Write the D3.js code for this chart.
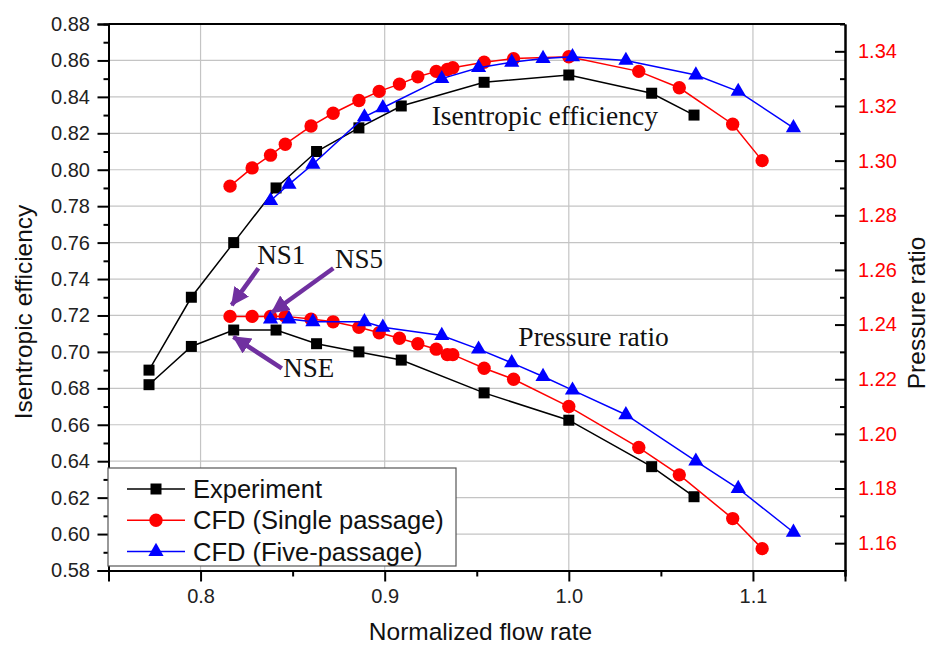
<!DOCTYPE html>
<html><head><meta charset="utf-8">
<script src="https://cdn.jsdelivr.net/npm/d3@7"></script>
<style>
html,body{margin:0;padding:0;background:#fff;}
svg{display:block;font-family:"Liberation Sans",Arial,sans-serif;}
</style></head>
<body><svg id="chart" width="931" height="646"></svg>
<script>
// ---------- data ----------
const expFlow  = [0.772, 0.795, 0.818, 0.841, 0.863, 0.886, 0.909, 0.954, 1.000, 1.045, 1.068];
const expEff   = [0.690, 0.730, 0.760, 0.790, 0.810, 0.823, 0.835, 0.848, 0.852, 0.842, 0.830];
const expPR    = [1.218, 1.232, 1.238, 1.238, 1.233, 1.230, 1.227, 1.215, 1.205, 1.188, 1.177];

const singleFlow = [0.816, 0.828, 0.838, 0.846, 0.860, 0.872, 0.886, 0.897, 0.908, 0.918, 0.928, 0.934, 0.937, 0.954, 0.970, 1.000, 1.038, 1.060, 1.089, 1.105];
const singleEff  = [0.791, 0.801, 0.808, 0.814, 0.824, 0.831, 0.838, 0.843, 0.847, 0.851, 0.854, 0.855, 0.856, 0.859, 0.861, 0.862, 0.854, 0.845, 0.825, 0.805];
const singlePR   = [1.243, 1.243, 1.243, 1.243, 1.242, 1.241, 1.239, 1.237, 1.235, 1.233, 1.231, 1.229, 1.229, 1.224, 1.220, 1.210, 1.195, 1.185, 1.169, 1.158];

const fiveFlow = [0.838, 0.848, 0.861, 0.889, 0.899, 0.931, 0.951, 0.969, 0.986, 1.002, 1.031, 1.069, 1.092, 1.122];
const fiveEff  = [0.783, 0.792, 0.803, 0.829, 0.834, 0.850, 0.856, 0.859, 0.861, 0.862, 0.860, 0.852, 0.843, 0.823];
const fivePR   = [1.242, 1.242, 1.241, 1.241, 1.239, 1.236, 1.231, 1.226, 1.221, 1.216, 1.207, 1.190, 1.180, 1.164];

const seriesNames = ["Experiment", "CFD (Single passage)", "CFD (Five-passage)"];
const xTicks = [0.8, 0.9, 1.0, 1.1];
const xMinorTicks = [0.75, 0.85, 0.95, 1.05, 1.15];
const leftTicks = [0.58,0.60,0.62,0.64,0.66,0.68,0.70,0.72,0.74,0.76,0.78,0.80,0.82,0.84,0.86,0.88];
const leftMinor = [0.59,0.61,0.63,0.65,0.67,0.69,0.71,0.73,0.75,0.77,0.79,0.81,0.83,0.85,0.87];
const rightTicks = [1.16,1.18,1.20,1.22,1.24,1.26,1.28,1.30,1.32,1.34];
const rightMinor = [1.15,1.17,1.19,1.21,1.23,1.25,1.27,1.29,1.31,1.33,1.35];

// annotations (data coordinates: flow, efficiency)
const annoText = [
  {t:"Isentropic efficiency", x:0.9255, y:0.8246},
  {t:"Pressure ratio", x:0.9726, y:0.7032},
  {t:"NS1", x:0.8308, y:0.7481},
  {t:"NS5", x:0.8730, y:0.7462},
  {t:"NSE", x:0.8449, y:0.6864}
];
const arrows = [
  {x1:0.8314, y1:0.7459, x2:0.8169, y2:0.7257},
  {x1:0.8721, y1:0.7459, x2:0.8386, y2:0.7215},
  {x1:0.8441, y1:0.6910, x2:0.8178, y2:0.7083}
];

// ---------- layout ----------
const L = 108.5, R = 845, T = 24, B = 570.5;
const svg = d3.select("#chart");
svg.append("rect").attr("width",931).attr("height",646).attr("fill","#fff");

const x = d3.scaleLinear().domain([0.75,1.15]).range([L,R]);
const yL = d3.scaleLinear().domain([0.58,0.88]).range([B,T]);
const yR = d3.scaleLinear().domain([1.15,1.35]).range([B,T]);

// grid
const grid = svg.append("g").attr("stroke","#c4c4c4").attr("stroke-width",1.2);
grid.selectAll("line.v").data(xTicks).join("line")
  .attr("x1",d=>x(d)).attr("x2",d=>x(d)).attr("y1",T).attr("y2",B);
grid.selectAll("line.h").data(leftTicks.filter(d=>d>0.58 && d<0.88)).join("line")
  .attr("x1",L).attr("x2",R).attr("y1",d=>yL(d)).attr("y2",d=>yL(d));

// frame top
svg.append("line").attr("x1",L).attr("x2",R).attr("y1",T).attr("y2",T).attr("stroke","#000").attr("stroke-width",2);

// axes
function styleAxis(g){
  g.selectAll(".domain").attr("stroke","#000").attr("stroke-width",2);
  g.selectAll(".tick line").attr("stroke","#000").attr("stroke-width",2);
  g.selectAll("text").attr("font-size","20px").attr("fill","#222").attr("font-family","Liberation Sans, Arial, sans-serif");
}
const fmt2 = d3.format(".2f"), fmt1 = d3.format(".1f");

svg.append("g").attr("transform",`translate(0,${B})`)
  .call(d3.axisBottom(x).tickValues(xMinorTicks).tickSize(6).tickFormat(""))
  .call(styleAxis);
svg.append("g").attr("transform",`translate(0,${B})`)
  .call(d3.axisBottom(x).tickValues(xTicks).tickSize(11).tickPadding(7.5).tickFormat(fmt1))
  .call(styleAxis);

svg.append("g").attr("transform",`translate(${L},0)`)
  .call(d3.axisLeft(yL).tickValues(leftMinor).tickSize(5).tickFormat(""))
  .call(styleAxis);
svg.append("g").attr("transform",`translate(${L},0)`)
  .call(d3.axisLeft(yL).tickValues(leftTicks).tickSize(11).tickPadding(7.5).tickFormat(fmt2))
  .call(styleAxis);

svg.append("g").attr("transform",`translate(${R},0)`)
  .call(d3.axisRight(yR).tickValues(rightMinor).tickSizeInner(-5).tickSizeOuter(0).tickFormat(""))
  .call(styleAxis);
const rAx = svg.append("g").attr("transform",`translate(${R},0)`)
  .call(d3.axisRight(yR).tickValues(rightTicks).tickSizeInner(-10).tickSizeOuter(0).tickPadding(13).tickFormat(fmt2))
  .call(styleAxis);
rAx.selectAll("text").attr("fill","#ff0000");

// axis titles
svg.append("text").attr("x",480.5).attr("y",640).attr("text-anchor","middle")
  .attr("font-size","24.5px").attr("fill","#111").text("Normalized flow rate");
svg.append("text").attr("transform","translate(32,312) rotate(-90)").attr("text-anchor","middle")
  .attr("font-size","24.5px").attr("fill","#111").text("Isentropic efficiency");
svg.append("text").attr("transform","translate(925,313) rotate(-90)").attr("text-anchor","middle")
  .attr("font-size","24.5px").attr("fill","#111").text("Pressure ratio");

// series
const series = [
  {name:seriesNames[0], flow:expFlow, eff:expEff, pr:expPR, color:"#000000", sym:d3.symbolSquare, size:121},
  {name:seriesNames[1], flow:singleFlow, eff:singleEff, pr:singlePR, color:"#ff0000", sym:d3.symbolCircle, size:140},
  {name:seriesNames[2], flow:fiveFlow, eff:fiveEff, pr:fivePR, color:"#0000ff", sym:d3.symbolTriangle, size:100}
];
const lineL = d3.line().x(d=>x(d[0])).y(d=>yL(d[1]));
const lineR = d3.line().x(d=>x(d[0])).y(d=>yR(d[1]));
series.forEach(s=>{
  const effPts = s.flow.map((f,i)=>[f,s.eff[i]]);
  const prPts = s.flow.map((f,i)=>[f,s.pr[i]]);
  const g = svg.append("g");
  g.append("path").datum(effPts).attr("d",lineL).attr("fill","none").attr("stroke",s.color).attr("stroke-width",1.5);
  g.append("path").datum(prPts).attr("d",lineR).attr("fill","none").attr("stroke",s.color).attr("stroke-width",1.5);
  const sym = d3.symbol().type(s.sym).size(s.size);
  g.selectAll("path.me").data(effPts).join("path").attr("class","me")
    .attr("transform",d=>`translate(${x(d[0])},${yL(d[1])})`).attr("d",sym).attr("fill",s.color);
  g.selectAll("path.mp").data(prPts).join("path").attr("class","mp")
    .attr("transform",d=>`translate(${x(d[0])},${yR(d[1])})`).attr("d",sym).attr("fill",s.color);
});

// annotations
const defs = svg.append("defs");
defs.append("marker").attr("id","ah").attr("markerUnits","userSpaceOnUse")
  .attr("markerWidth",20).attr("markerHeight",20).attr("refX",17).attr("refY",9).attr("orient","auto")
  .append("path").attr("d","M0,0 L18,9 L0,18 Z").attr("fill","#7030a0");
svg.append("g").selectAll("line").data(arrows).join("line")
  .attr("x1",d=>x(d.x1)).attr("y1",d=>yL(d.y1)).attr("x2",d=>x(d.x2)).attr("y2",d=>yL(d.y2))
  .attr("stroke","#7030a0").attr("stroke-width",4.5).attr("marker-end","url(#ah)");
svg.append("g").selectAll("text").data(annoText).join("text")
  .attr("x",d=>x(d.x)).attr("y",d=>yL(d.y))
  .attr("font-family","Liberation Serif, Times New Roman, serif")
  .attr("font-size",d=>d.t.startsWith("NS")?"27px":"27.5px").attr("fill","#111").text(d=>d.t);

// legend
const lg = svg.append("g");
lg.append("rect").attr("x",108).attr("y",468).attr("width",348).attr("height",98)
  .attr("fill","#fff").attr("stroke","#555").attr("stroke-width",1.2);
series.forEach((s,i)=>{
  const cy = 489 + i*31.3;
  lg.append("line").attr("x1",127).attr("x2",185).attr("y1",cy).attr("y2",cy).attr("stroke",s.color).attr("stroke-width",1.5);
  lg.append("path").attr("transform",`translate(156,${cy})`).attr("d",d3.symbol().type(s.sym).size(s.size)()).attr("fill",s.color);
  lg.append("text").attr("x",193).attr("y",cy).attr("dy","0.36em").attr("font-size","25.5px").attr("fill","#111").text(s.name);
});
</script></body></html>
